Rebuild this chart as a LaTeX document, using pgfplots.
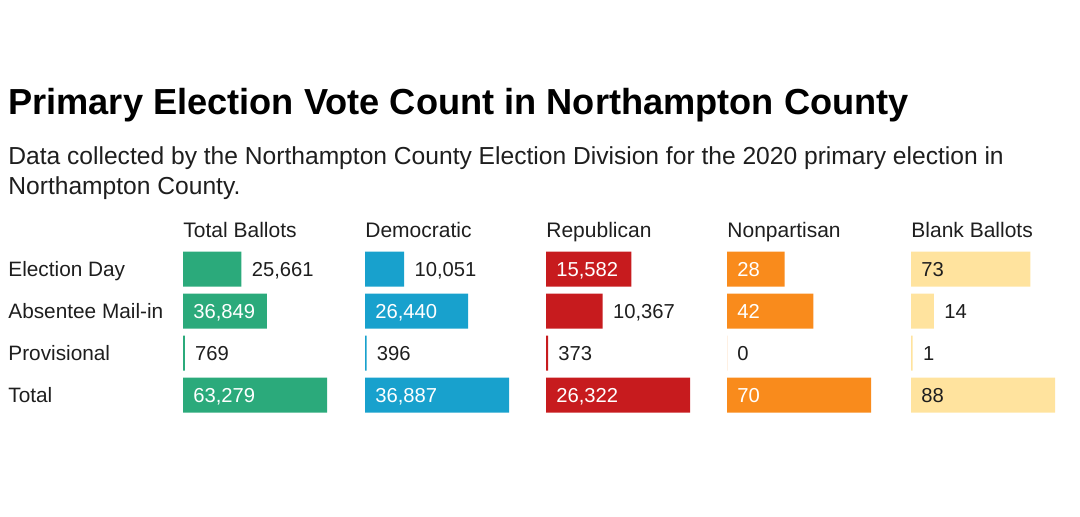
\documentclass[border=0pt]{standalone}
\usepackage{pgfplots}
\pgfplotsset{compat=1.18}
\usepackage{pgfplotstable}
\usepackage{fontspec}
\setmainfont{Liberation Sans}
\definecolor{cgreen}{HTML}{2BAA7B}
\definecolor{cblue}{HTML}{18A1CD}
\definecolor{cred}{HTML}{C71B1E}
\definecolor{corange}{HTML}{F98B1C}
\definecolor{cyellow}{HTML}{FFE39E}
\definecolor{txt}{HTML}{1E1E1E}

% row: 0 Election Day, 1 Absentee Mail-in, 2 Provisional, 3 Total; in: label inside bar
\pgfplotstableread{
row value in
0 25661 0
1 36849 1
2 769 0
3 63279 1
}\tabTotal
\pgfplotstableread{
row value in
0 10051 0
1 26440 1
2 396 0
3 36887 1
}\tabDem
\pgfplotstableread{
row value in
0 15582 1
1 10367 0
2 373 0
3 26322 1
}\tabRep
\pgfplotstableread{
row value in
0 28 1
1 42 1
2 0 0
3 70 1
}\tabNon
\pgfplotstableread{
row value in
0 73 1
1 14 0
2 1 0
3 88 1
}\tabBlank

\pgfplotsset{
  panel/.style={
    scale only axis, width=72pt, height=84pt, anchor=north west,
    xmin=0, ymin=-0.5, ymax=3.5, y dir=reverse, enlargelimits=false,
    axis line style={draw=none}, tick style={draw=none}, major tick length=0pt,
    xtick=\empty, ytick=\empty, clip=false,
    title style={at={(0,1)}, anchor=base west, yshift=-0.5pt, inner sep=0pt,
      font=\fontsize{10.5}{12}\selectfont, text=txt},
    point meta=explicit,
    /pgf/number format/fixed,
    /pgf/number format/precision=0,
    /pgf/number format/1000 sep={,},
    /pgf/number format/assume math mode=true,
  },
  bars/.style={xbar, bar width=17.5pt, bar shift=0pt, draw=none, fill=#1},
  lbl/.style={draw=none, mark=none, nodes near coords,
    nodes near coords style={anchor=west, xshift=5pt, inner sep=0pt,
      text height=0.716em, text depth=0pt,
      font=\fontsize{10.1}{12}\selectfont, text=#1}},
  lblin/.style={lbl=#1, restrict expr to domain={\thisrow{in}}{1:1}},
  lblout/.style={lbl=txt, restrict expr to domain={\thisrow{in}}{0:0}},
}

\begin{document}
\begin{tikzpicture}
\path[use as bounding box] (0,0) rectangle (540pt,258pt);

\node[anchor=base west, inner sep=0pt, text=black, font=\bfseries\fontsize{18.1}{20}\selectfont]
  at (4pt,201pt) {Primary Election Vote Count in Northampton County};
\node[anchor=base west, inner sep=0pt, text=txt, font=\fontsize{12.3}{15}\selectfont]
  at (4pt,176pt) {Data collected by the Northampton County Election Division for the 2020 primary election in};
\node[anchor=base west, inner sep=0pt, text=txt, font=\fontsize{12.3}{15}\selectfont]
  at (4pt,161pt) {Northampton County.};

% Total Ballots
\begin{axis}[panel, at={(91.5pt,134pt)}, xmax=63279, title={Total Ballots},
  ytick={0,1,2,3},
  yticklabels={Election Day,Absentee Mail-in,Provisional,Total},
  yticklabel style={anchor=west, inner sep=0pt, xshift=-87.5pt,
    text height=0.716em, text depth=0pt, font=\fontsize{10.4}{12}\selectfont, text=txt}]
\addplot[bars=cgreen] table[x=value, y=row] {\tabTotal};
\addplot[lblin=white] table[x expr=0, y=row, meta=value] {\tabTotal};
\addplot[lblout] table[x=value, y=row, meta=value] {\tabTotal};
\end{axis}

% Democratic
\begin{axis}[panel, at={(182.5pt,134pt)}, xmax=36887, title={Democratic}]
\addplot[bars=cblue] table[x=value, y=row] {\tabDem};
\addplot[lblin=white] table[x expr=0, y=row, meta=value] {\tabDem};
\addplot[lblout] table[x=value, y=row, meta=value] {\tabDem};
\end{axis}

% Republican
\begin{axis}[panel, at={(273pt,134pt)}, xmax=26322, title={Republican}]
\addplot[bars=cred] table[x=value, y=row] {\tabRep};
\addplot[lblin=white] table[x expr=0, y=row, meta=value] {\tabRep};
\addplot[lblout] table[x=value, y=row, meta=value] {\tabRep};
\end{axis}

% Nonpartisan
\begin{axis}[panel, at={(363.5pt,134pt)}, xmax=70, title={Nonpartisan}]
\addplot[bars=corange] table[x=value, y=row] {\tabNon};
\addplot[lblin=white] table[x expr=0, y=row, meta=value] {\tabNon};
\addplot[lblout] table[x=value, y=row, meta=value] {\tabNon};
\end{axis}

% Blank Ballots
\begin{axis}[panel, at={(455.5pt,134pt)}, xmax=88, title={Blank Ballots}]
\addplot[bars=cyellow] table[x=value, y=row] {\tabBlank};
\addplot[lblin=txt] table[x expr=0, y=row, meta=value] {\tabBlank};
\addplot[lblout] table[x=value, y=row, meta=value] {\tabBlank};
\end{axis}
\end{tikzpicture}
\end{document}
